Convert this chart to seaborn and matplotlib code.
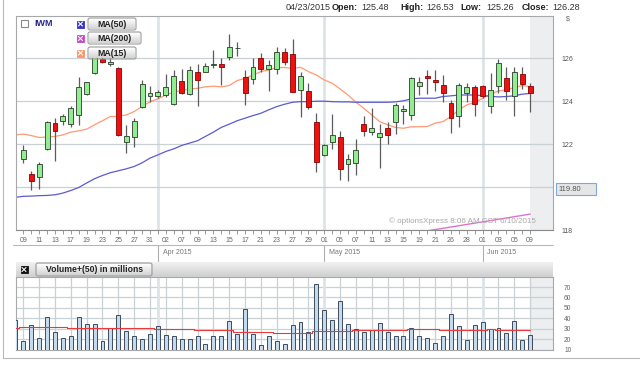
import numpy as np
import pandas as pd
import matplotlib
matplotlib.use("Agg")
import matplotlib.pyplot as plt
import seaborn as sns
from matplotlib.patches import Rectangle, FancyBboxPatch
from matplotlib.lines import Line2D
from matplotlib.transforms import Affine2D

# ---------------- data ----------------
holidays = ['2015-04-03', '2015-05-25']
all_days = [d for d in pd.bdate_range('2015-03-06', '2015-06-09')
            if d.strftime('%Y-%m-%d') not in holidays]   # Mar 6 .. Jun 9
dates = all_days[1:]                                       # candles: Mar 9 .. Jun 9

opens = [121.32, 120.62, 120.45, 121.78, 123.00, 123.09, 122.96, 123.36, 124.33, 125.31,
         125.95, 125.72, 125.53, 122.08, 122.31, 123.71, 124.23, 124.22, 124.29, 123.86,
         124.95, 124.33, 125.35, 125.38, 125.69, 125.74, 126.08, 126.46, 125.12, 125.04,
         126.03, 125.49, 125.48, 126.31, 126.20, 124.50, 124.48, 123.05, 121.50, 122.09,
         122.34, 121.09, 121.13, 122.93, 122.56, 122.33, 122.74, 123.05, 123.53, 123.36,
         124.73, 125.16, 124.99, 124.76, 123.94, 123.33, 124.40, 124.64, 124.70, 123.78,
         124.71, 125.10, 124.22, 125.29, 124.71]
highs = [121.97, 120.76, 121.19, 123.09, 123.21, 123.40, 123.80, 125.15, 124.91, 126.20,
         126.30, 126.00, 125.61, 122.90, 123.24, 124.99, 124.73, 124.53, 125.26, 125.46,
         125.49, 125.66, 125.72, 125.80, 126.39, 126.03, 127.12, 126.74, 125.47, 126.03,
         126.23, 125.91, 126.53, 126.47, 126.90, 125.35, 124.87, 123.44, 122.00, 123.40,
         122.62, 121.53, 122.25, 123.29, 123.67, 122.95, 123.01, 123.91, 123.83, 125.15,
         125.12, 125.46, 125.46, 125.22, 124.06, 124.84, 124.84, 124.76, 124.76, 125.30,
         125.95, 125.61, 125.61, 125.61, 124.84]
lows = [121.12, 119.85, 119.92, 121.74, 121.22, 122.90, 122.78, 122.87, 124.29, 125.25,
        125.80, 125.65, 122.36, 121.58, 121.86, 123.67, 123.96, 124.17, 124.19, 123.83,
        124.34, 124.29, 123.77, 125.35, 125.57, 124.76, 125.92, 126.12, 123.83, 124.81,
        125.38, 124.48, 125.26, 125.69, 124.42, 123.26, 123.63, 120.68, 121.47, 121.78,
        120.31, 120.26, 120.57, 122.40, 122.43, 120.88, 122.02, 122.47, 122.95, 123.13,
        124.29, 124.34, 124.48, 123.98, 122.51, 122.78, 123.95, 123.33, 124.14, 123.47,
        124.37, 124.06, 123.33, 124.57, 123.49]
closes = [121.74, 120.26, 121.07, 123.05, 122.60, 123.33, 123.67, 124.65, 124.88, 126.05,
          125.85, 125.82, 122.43, 122.36, 123.09, 124.79, 124.39, 124.42, 124.67, 125.19,
          124.37, 125.46, 124.98, 125.64, 125.69, 125.61, 126.54, 126.46, 124.40, 125.61,
          125.50, 125.69, 126.28, 125.84, 124.45, 125.16, 123.75, 121.16, 121.97, 122.43,
          120.84, 121.30, 121.74, 122.62, 122.73, 122.53, 122.43, 123.83, 123.66, 125.07,
          124.88, 125.07, 124.91, 124.40, 123.24, 124.76, 124.67, 123.86, 124.25, 124.51,
          125.77, 124.48, 125.38, 124.79, 124.40]

# moving averages / volume: Mar 6 .. Jun 9 (66 values)
ma15 = [122.43, 122.47, 122.40, 122.31, 122.33, 122.36, 122.43, 122.56, 122.62, 122.70,
        122.90, 123.09, 123.29, 123.29, 123.36, 123.52, 123.75, 123.98, 124.11, 124.29,
        124.42, 124.51, 124.57, 124.60, 124.67, 124.70, 124.67, 124.73, 124.96, 125.07,
        125.22, 125.38, 125.46, 125.57, 125.57, 125.53, 125.58, 125.38, 125.22, 124.99,
        124.84, 124.57, 124.29, 123.95, 123.67, 123.36, 123.05, 122.90, 122.78, 122.74,
        122.81, 122.81, 122.82, 122.98, 123.05, 123.29, 123.60, 123.83, 123.95, 124.14,
        124.33, 124.48, 124.53, 124.64, 124.73, 124.68]
ma50 = [119.52, 119.57, 119.58, 119.60, 119.61, 119.64, 119.72, 119.84, 119.98, 120.19,
        120.39, 120.54, 120.67, 120.76, 120.85, 120.96, 121.13, 121.35, 121.50, 121.66,
        121.78, 121.94, 122.05, 122.16, 122.36, 122.56, 122.78, 122.93, 123.09, 123.21,
        123.33, 123.44, 123.60, 123.75, 123.86, 123.95, 123.98, 123.98, 124.00, 124.00,
        123.98, 123.97, 123.97, 123.95, 123.95, 123.95, 123.95, 123.95, 123.97, 124.02,
        124.11, 124.14, 124.14, 124.14, 124.22, 124.25, 124.29, 124.29, 124.29, 124.26,
        124.23, 124.20, 124.22, 124.25, 124.33, 124.36]
ma200_start = 51   # candle index where the MA(200) enters the visible range
ma200 = [117.96, 118.02, 118.08, 118.14, 118.20, 118.26, 118.32, 118.38, 118.44,
         118.50, 118.56, 118.62, 118.68, 118.74]
volume = [37.9, 18.4, 33.1, 21.2, 41.1, 27.0, 20.6, 23.2, 40.8, 34.7,
          34.4, 18.0, 30.2, 43.0, 27.7, 23.2, 20.3, 24.8, 32.5, 23.8,
          22.5, 20.3, 20.0, 22.5, 15.5, 22.9, 22.9, 37.3, 24.8, 48.5,
          24.8, 14.2, 22.5, 18.4, 15.5, 33.1, 36.0, 27.0, 73.2, 48.2,
          37.9, 56.5, 34.7, 29.9, 27.0, 28.6, 35.4, 27.3, 22.9, 22.5,
          30.9, 23.2, 20.9, 16.4, 22.9, 44.3, 32.5, 19.0, 33.4, 36.0,
          29.6, 30.5, 26.1, 37.3, 19.0, 23.8]
vol_ma50 = [30.5] + [31.5] * 6 + [31.0] * 6 + [30.5] * 5 + [29.5] * 5 + [28.3] * 5 + \
           [27.0] * 5 + [25.9] * 5 + [28.0] * 5 + [28.6] * 7 + [29.9] * 4 + [28.6] * 6 + \
           [29.6] + [28.6] * 5

price_ticks = [118, 120, 122, 124, 126]
price_labels = ['118', '', '122', '124', '126']
vol_ticks = [10, 20, 30, 40, 50, 60, 70]
last_value = '119.80'
header = [('04/23/2015', False), ('Open:', True), ('125.48', False), ('High:', True),
          ('126.53', False), ('Low:', True), ('125.26', False), ('Close:', True), ('126.28', False)]
watermark = '\u00a9 optionsXpress 8:06 AM CST 6/10/2015'

# ---------------- style ----------------
sns.set_theme(style="white")
plt.rcParams['font.family'] = ['Liberation Sans', 'DejaVu Sans']

W, H = 640, 370
fig = plt.figure(figsize=(W / 100, H / 100), dpi=100)
fig.patch.set_facecolor('white')
T = Affine2D().scale(1 / W, -1 / H).translate(0, 1) + fig.transFigure  # top-left pixel coords

GRID = '#c9d1d5'
MONTH = '#dde4e8'
SHADE = '#eceef0'
SPINE = '#a8a8a8'

X0, X1 = 16, 553
def px2idx(x):
    return (x - 23.3) / 7.92

xlim = (px2idx(X0), px2idx(X1))

# ---------------- main price axes ----------------
ax = fig.add_axes([X0 / W, 1 - 230 / H, (X1 - X0) / W, (230 - 16) / H])
idx = np.arange(len(opens))
o, c, h, l = map(np.array, (opens, closes, highs, lows))
up = c >= o
month_idx = [i for i in range(1, len(dates)) if dates[i].month != dates[i - 1].month]

ax.axvspan(len(dates) - 1.05, xlim[1], color=SHADE, zorder=0, lw=0)
for m in month_idx:
    ax.axvline(m, color=MONTH, lw=2, zorder=0.5)
ax.set_yticks(price_ticks)
ax.set_yticklabels(price_labels)
ax.yaxis.grid(True, color=GRID, lw=0.9)
ax.xaxis.grid(False)
ax.set_axisbelow(True)

ma_idx = np.arange(-1, len(dates))
sns.lineplot(x=ma_idx, y=ma15, ax=ax, color='#ff9a72', lw=0.9, zorder=2)
sns.lineplot(x=ma_idx, y=ma50, ax=ax, color='#5b5bd0', lw=0.9, zorder=2)
sns.lineplot(x=np.arange(ma200_start, ma200_start + len(ma200)), y=ma200, ax=ax,
             color='#e070d0', lw=1.0, zorder=2)

ax.vlines(idx, l, h, color='#5c5c5c', lw=0.9, zorder=3)
body_b = np.minimum(o, c)
body_h = np.maximum(np.abs(c - o), 0.025)
ax.bar(idx[up], body_h[up], bottom=body_b[up], width=0.62, color='#90ee90',
       edgecolor='#2c3a2c', lw=0.6, zorder=4)
ax.bar(idx[~up], body_h[~up], bottom=body_b[~up], width=0.62, color='#ee1111',
       edgecolor='#8a0000', lw=0.6, zorder=4)

ax.set_xlim(*xlim)
ax.set_ylim(118.0, 127.97)
ax.yaxis.tick_right()
ax.tick_params(axis='y', length=0, pad=6, labelsize=5, labelcolor='#555555')
ax.set_xticks(idx[::2])
ax.set_xticklabels([d.strftime('%d') for d in dates][::2])
ax.set_xticks(idx, minor=True)
ax.tick_params(axis='x', which='both', length=3, width=0.6, color='#888888',
               labelsize=5, labelcolor='#666666', pad=2, bottom=True)
ax.set_xlabel('')
ax.set_ylabel('')
for s in ax.spines.values():
    s.set_color(SPINE)
    s.set_linewidth(0.8)
ax.spines['bottom'].set_color('#8a8a8a')

# month row below the date labels
xt = ax.get_xaxis_transform()
for m in month_idx:
    ax.plot([m, m], [-0.07, -0.145], transform=xt, color='#b0b0b0', lw=0.8, clip_on=False)
    ax.text(m + 0.6, -0.105, dates[m].strftime('%b %Y'), transform=xt, fontsize=5,
            color='#777777', va='center', ha='left', clip_on=False)
fig.add_artist(Line2D([X0 - 3, X1], [245, 245], transform=T, color='#b8b8b8', lw=0.8))

# current-value box and $ label
fig.add_artist(Rectangle((556, 183), 40, 12, transform=T, facecolor='#e6e6e6',
                         edgecolor='#7ea9d6', lw=0.8))
fig.text(558, 189.5, last_value, transform=T, fontsize=5.5, color='#555555', va='center')
fig.text(566, 19, '$', transform=T, fontsize=5, color='#666666', va='center')
fig.text(389, 221, watermark, transform=T, fontsize=5.8, color='#a8a8a8', va='center')

# ---------------- volume axes ----------------
vax = fig.add_axes([X0 / W, 1 - 349.5 / H, (X1 - X0) / W, (349.5 - 277) / H])
vidx = np.arange(-1, len(dates))
vax.axvspan(len(dates) - 1.05, xlim[1], color=SHADE, zorder=0, lw=0)
vax.set_xticks(idx[::2])
vax.set_xticklabels([])
vax.set_yticks(vol_ticks)
vax.grid(True, color=GRID, lw=0.9)
vax.set_axisbelow(True)
for m in month_idx:
    vax.axvline(m, color=MONTH, lw=2, zorder=0.6)
vax.bar(vidx, volume, width=0.5, color='#c4dbef', edgecolor='#3d4b5e', lw=0.7, zorder=3)
sns.lineplot(x=vidx, y=vol_ma50, ax=vax, color='#e83a3a', lw=0.8, zorder=4,
             drawstyle='steps-mid')
vax.set_xlim(*xlim)
vax.set_ylim(10, 79.7)
vax.yaxis.tick_right()
vax.tick_params(axis='y', length=0, pad=8, labelsize=4.8, labelcolor='#666666')
vax.tick_params(axis='x', length=0)
vax.set_xlabel('')
vax.set_ylabel('')
for s in vax.spines.values():
    s.set_color(SPINE)
    s.set_linewidth(0.8)

# ---------------- decorations ----------------
def grad_rect(x0, y0, x1, y1, ctop, cbot):
    n = int(round(y1 - y0))
    a = np.array(matplotlib.colors.to_rgb(ctop))
    b = np.array(matplotlib.colors.to_rgb(cbot))
    for k in range(n):
        t = k / max(n - 1, 1)
        fig.add_artist(Rectangle((x0, y0 + k), x1 - x0, 1.05, transform=T,
                                 facecolor=a * (1 - t) + b * t, lw=0))

def button(x0, y0, x1, y1, label, size=6.3):
    grad_rect(x0 + 1, y0 + 1, x1 - 1, y1 - 1, '#fbfbfb', '#d4d4d4')
    fig.add_artist(FancyBboxPatch((x0, y0), x1 - x0, y1 - y0, transform=T,
                                  boxstyle='round,pad=0,rounding_size=2',
                                  facecolor='none', edgecolor='#9c9c9c', lw=0.8))
    fig.text((x0 + x1) / 2, (y0 + y1) / 2 + 0.5, label, transform=T, fontsize=size,
             fontweight='bold', color='#222222', ha='center', va='center')

def xbox(x0, y0, color, xcolor='white'):
    fig.add_artist(Rectangle((x0, y0), 7, 7, transform=T, facecolor=color,
                             edgecolor=color, lw=0.6))
    fig.add_artist(Line2D([x0 + 1.5, x0 + 5.5], [y0 + 1.5, y0 + 5.5], transform=T,
                          color=xcolor, lw=0.8))
    fig.add_artist(Line2D([x0 + 1.5, x0 + 5.5], [y0 + 5.5, y0 + 1.5], transform=T,
                          color=xcolor, lw=0.8))

# legend of the price panel
fig.add_artist(Rectangle((21, 20), 7, 7, transform=T, facecolor='white',
                         edgecolor='#8a8a8a', lw=0.8))
fig.text(34, 23.5, 'IWM', transform=T, fontsize=6.5, fontweight='bold',
         color='#2a2a8c', va='center')
xbox(77, 20.5, '#3434c8')
xbox(77, 35, '#cc44cc')
xbox(77, 49.5, '#ff9466')
button(88, 18, 136, 30, 'MA(50)')
button(88, 32, 141, 44, 'MA(200)')
button(88, 47, 136, 59, 'MA(15)')

# volume header bar
grad_rect(X0, 262, X1, 277, '#f0f0f0', '#cfcfcf')
xbox(20.5, 266, '#111111')
button(36, 263, 152, 276, 'Volume+(50) in millions', size=6.2)

# header quote text
hx = [286, 332, 361, 400, 426, 460, 486, 522, 552]
for (s, bold), x in zip(header, hx):
    fig.text(x, 8, s, transform=T, fontsize=6.5, fontweight='bold' if bold else 'normal',
             color='#222222' if bold else '#333333', va='center')

# outer frame
fig.add_artist(Line2D([3, 3], [0, 358], transform=T, color='#b8b8b8', lw=0.8))
fig.add_artist(Line2D([3, 640], [358, 358], transform=T, color='#b8b8b8', lw=0.8))

fig.savefig('out.png', dpi=100, facecolor='white')
